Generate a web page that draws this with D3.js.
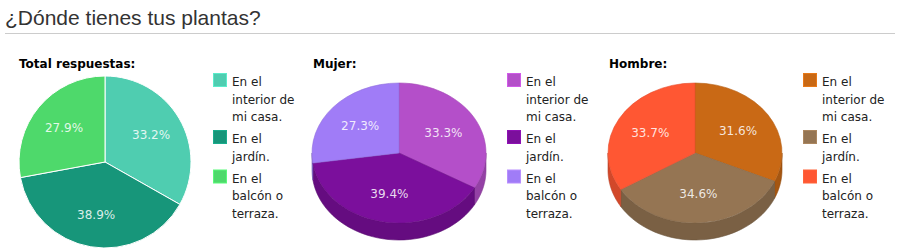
<!DOCTYPE html>
<html lang="es">
<head>
<meta charset="UTF-8">
<title>¿Dónde tienes tus plantas?</title>
<script src="https://d3js.org/d3.v7.min.js"></script>
<style>
  body { margin: 0; background: #fff; }
  svg { display: block; font-family: "DejaVu Sans", sans-serif; }
</style>
</head>
<body>
<script>
// datos
const title = "¿Dónde tienes tus plantas?";
const categories = ["En el interior de mi casa.", "En el jardín.", "En el balcón o terraza."];
const groups = ["Total respuestas:", "Mujer:", "Hombre:"];
const totalValues = [33.2, 38.9, 27.9];
const mujerValues = [33.3, 39.4, 27.3];
const hombreValues = [31.6, 34.6, 33.7];

// paletas
const totalColors = ["#4fcdb0", "#17967a", "#4ed96b"];
const mujerColors = ["#b44fc9", "#7b0f9c", "#a07cf7"];
const hombreColors = ["#c96915", "#957553", "#ff5733"];

const panels = [
  { name: groups[0], values: totalValues, colors: totalColors, x0: 0, tilt: false },
  { name: groups[1], values: mujerValues, colors: mujerColors, x0: 294, tilt: true },
  { name: groups[2], values: hombreValues, colors: hombreColors, x0: 590, tilt: true }
];

const width = 900, height = 252;
const svg = d3.select("body").append("svg")
  .attr("width", width)
  .attr("height", height);

svg.append("text")
  .attr("x", 5).attr("y", 25)
  .style("font-family", "'Liberation Sans', Arial, sans-serif")
  .style("font-size", "21px")
  .attr("fill", "#333")
  .text(title);

svg.append("line")
  .attr("x1", 5).attr("x2", 895)
  .attr("y1", 33.5).attr("y2", 33.5)
  .attr("stroke", "#ccc");

const pie = d3.pie().sort(null).value(d => d);
const fmt = v => d3.format(".1f")(v) + "%";

function wrap(textSel, maxW) {
  textSel.each(function() {
    const t = d3.select(this);
    const words = t.text().split(" ");
    const x = t.attr("x"), y = +t.attr("y");
    t.text(null);
    let line = [], n = 0;
    let ts = t.append("tspan").attr("x", x).attr("y", y);
    words.forEach(w => {
      line.push(w);
      ts.text(line.join(" "));
      if (ts.node().getComputedTextLength() > maxW && line.length > 1) {
        line.pop();
        ts.text(line.join(" "));
        line = [w];
        n++;
        ts = t.append("tspan").attr("x", x).attr("y", y + n * 17.5).text(w);
      }
    });
    t.attr("data-lines", n + 1);
  });
}

panels.forEach(p => {
  const g = svg.append("g").attr("transform", `translate(${p.x0},0)`);

  g.append("text")
    .attr("x", 19).attr("y", 68)
    .style("font-size", "12px")
    .style("font-weight", "bold")
    .attr("fill", "#000")
    .text(p.name);

  const arcs = pie(p.values);
  const cx = 105;

  if (!p.tilt) {
    const cy = 162, r = 86;
    const arc = d3.arc().innerRadius(0).outerRadius(r);
    const pg = g.append("g").attr("transform", `translate(${cx},${cy})`);
    pg.selectAll("path").data(arcs).join("path")
      .attr("d", arc)
      .attr("fill", (d, i) => p.colors[i])
      .attr("stroke", "#fff")
      .attr("stroke-width", 1);
    const lab = d3.arc().innerRadius(r * 0.62).outerRadius(r * 0.62);
    pg.selectAll("text").data(arcs).join("text")
      .attr("transform", d => `translate(${lab.centroid(d)})`)
      .attr("dy", "0.35em")
      .attr("text-anchor", "middle")
      .style("font-size", "12px")
      .attr("fill", "#fff").attr("fill-opacity", 0.85)
      .text(d => fmt(d.data));
  } else {
    const cy = 153, rx = 87, ry = 70, depth = 17;
    const pg = g.append("g").attr("transform", `translate(${cx},${cy})`);
    const pt = (a, dy) => [rx * Math.sin(a), -ry * Math.cos(a) + dy];
    const line = d3.line();
    // caras laterales (sólo la mitad frontal)
    arcs.forEach((d, i) => {
      const lo = Math.max(d.startAngle, Math.PI / 2);
      const hi = Math.min(d.endAngle, 3 * Math.PI / 2);
      if (hi <= lo) return;
      const steps = d3.range(0, 41).map(k => lo + (hi - lo) * k / 40);
      const pts = steps.map(a => pt(a, 0)).concat(steps.slice().reverse().map(a => pt(a, depth)));
      pg.append("path")
        .attr("d", line(pts) + "Z")
        .attr("fill", d3.color(p.colors[i]).darker(0.55))
        .attr("stroke", d3.color(p.colors[i]).darker(0.9))
        .attr("stroke-width", 0.6);
    });
    // cara superior
    const arc = d3.arc().innerRadius(0).outerRadius(rx);
    pg.append("g").attr("transform", `scale(1,${ry / rx})`)
      .selectAll("path").data(arcs).join("path")
      .attr("d", arc)
      .attr("fill", (d, i) => p.colors[i])
      .attr("stroke", (d, i) => d3.color(p.colors[i]).darker(0.3))
      .attr("stroke-width", 0.6)
      .attr("vector-effect", "non-scaling-stroke");
    pg.selectAll("text.lbl").data(arcs).join("text")
      .attr("class", "lbl")
      .attr("transform", d => {
        const a = (d.startAngle + d.endAngle) / 2;
        return `translate(${0.59 * rx * Math.sin(a)},${-0.59 * ry * Math.cos(a)})`;
      })
      .attr("dy", "0.35em")
      .attr("text-anchor", "middle")
      .style("font-size", "12px")
      .attr("fill", "#fff").attr("fill-opacity", 0.85)
      .text(d => fmt(d.data));
  }

  // leyenda
  const lg = g.append("g").attr("transform", "translate(213,0)");
  let y = 86;
  categories.forEach((c, i) => {
    lg.append("rect")
      .attr("x", 0.5).attr("y", y - 12.5)
      .attr("width", 13).attr("height", 13)
      .attr("fill", p.colors[i])
      .attr("stroke", d3.color(p.colors[i]).brighter(0.4))
      .attr("stroke-width", 1);
    const t = lg.append("text")
      .attr("x", 19).attr("y", y)
      .style("font-size", "12px")
      .attr("fill", "#222")
      .text(c);
    wrap(t, 68);
    const n = +t.attr("data-lines");
    y += (n - 1) * 17.5 + 22;
  });
});
</script>
</body>
</html>
